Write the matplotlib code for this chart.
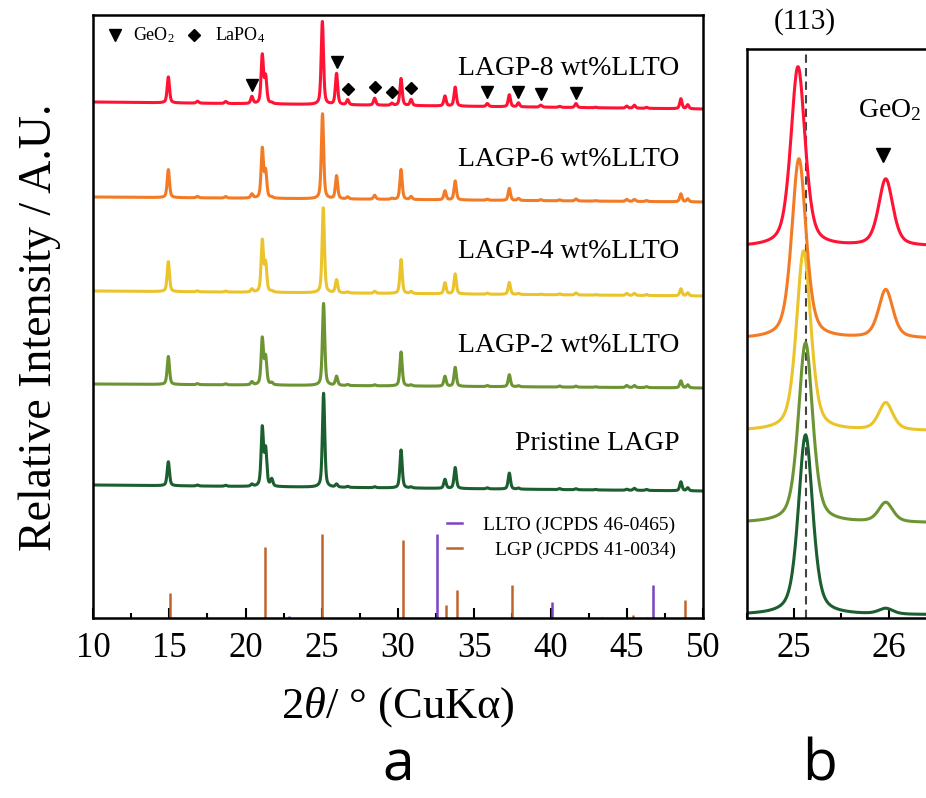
import matplotlib.pyplot as plt
import numpy as np
from matplotlib.ticker import MultipleLocator

# 字体设置 (Times 风格)
plt.rcParams['font.family'] = ['Liberation Serif', 'DejaVu Serif']
plt.rcParams['mathtext.fontset'] = 'custom'
plt.rcParams['mathtext.rm'] = 'Liberation Serif'
plt.rcParams['mathtext.it'] = 'Liberation Serif:italic'

# ---- 数据 ----
# 样品 (由下到上)
samples = ['Pristine LAGP', 'LAGP-2 wt%LLTO', 'LAGP-4 wt%LLTO',
           'LAGP-6 wt%LLTO', 'LAGP-8 wt%LLTO']
colors = ['#1b5e2f', '#6c9433', '#ebc32a', '#f47b25', '#ff1234']

# (113) 主峰位置与强度
main_pos = [25.12, 25.12, 25.10, 25.05, 25.04]
main_h = [94, 82, 85, 85, 83]

# 其他衍射峰位置 (2theta)
peak_pos = [14.94, 16.85, 18.7, 20.42, 21.1, 21.32, 21.72, 25.97, 26.7, 28.47,
            29.6, 30.2, 30.86, 33.08, 33.75, 35.86, 37.3, 37.9, 39.36, 40.6,
            41.67, 42.96, 45.0, 45.5, 46.3, 48.55, 49.0]
h_pristine = [24, 1, 1, 2, 58, 36, 7, 3, 1, 1, 0, 38, 1, 9, 21, 1, 16, 1, 0, 1,
              1, 0.5, 1, 2, 1, 9, 3]
h_lagp2 = [28, 1, 1, 3, 46, 27, 2, 9, 1, 1, 0, 34, 1, 10, 19, 1, 12, 1, 0, 1,
           1, 0.5, 2, 2, 1, 7, 3]
h_lagp4 = [30, 1, 1, 3, 51, 28, 1, 13, 1, 2, 0, 34, 2, 11, 20, 1, 12, 1, 0.5, 1,
           2, 0.5, 2, 2, 1, 7, 3]
h_lagp6 = [28, 1.5, 1.5, 4, 49, 26, 1, 23, 2, 4, 1, 30, 3, 9, 19, 1, 12, 2, 1, 1,
           2, 0.5, 2, 2, 1, 8, 3]
h_lagp8 = [26, 2, 2, 7, 48, 26, 1, 31, 5, 7, 2, 27, 6, 10, 19, 3, 12, 4, 2, 1,
           4, 0.5, 2, 3, 1, 10, 4]
heights = [h_pristine, h_lagp2, h_lagp4, h_lagp6, h_lagp8]

# 背景 (10° 和 50° 处)
bg_left = [133, 234, 327, 421, 516]
bg_right = [127, 230, 322, 416, 509]

# 杂相标记 (LAGP-8 曲线上)
geo2_marks = [20.42, 25.97, 35.86, 37.9, 39.36, 41.67]
lapo4_marks = [26.7, 28.47, 29.6, 30.86]

# 标准卡片
lgp_pos = [15.03, 21.27, 25.03, 30.3, 33.15, 33.9, 37.5, 43.4, 45.4, 46.3, 48.8]
lgp_h = [25, 71, 84, 78, 13, 28, 33, 1, 3, 1, 18]
llto_pos = [22.84, 32.56, 40.13, 46.73]
llto_h = [2, 84, 16, 33]

# 图 b 的偏移
offset_b = [3, 95, 187, 279, 371]
FWHM = 0.18


def pv(x, x0, h, w=FWHM, eta=0.5):
    u = (x - x0) / (w / 2)
    return h * (eta / (1 + u ** 2) + (1 - eta) * np.exp(-np.log(2) * u ** 2))


def pattern(x, i):
    y = pv(x, main_pos[i], main_h[i])
    for p, h in zip(peak_pos, heights[i]):
        y = y + pv(x, p, h)
    return y


fig = plt.figure(figsize=(9.26, 7.98), dpi=100)
axa = fig.add_axes([93 / 926, 180 / 798, 610 / 926, 603 / 798])
axb = fig.add_axes([747 / 926, 180 / 798, 188.8 / 926, 569 / 798])

# ---- 图 a ----
x = np.arange(10, 50.001, 0.01)
for i in range(5):
    bg = np.interp(x, [10, 50], [bg_left[i], bg_right[i]])
    axa.plot(x, bg + pattern(x, i), color=colors[i], lw=2.2)

bg8 = lambda xx: np.interp(xx, [10, 50], [bg_left[4], bg_right[4]])
gx = np.array(geo2_marks)
axa.plot(gx, bg8(gx) + pattern(gx, 4) + 11, 'v', color='k', ms=8)
lx = np.array(lapo4_marks)
axa.plot(lx, bg8(lx) + pattern(lx, 4) + 11, 'D', color='k', ms=6.5)

axa.vlines(lgp_pos, 0, lgp_h, color='#c0642e', lw=1.8)
axa.vlines(llto_pos, 0, llto_h, color='#7b44c2', lw=1.8)

# 样品名
label_y = [168, 266, 360, 452, 543]
for i in range(5):
    axa.text(48.45, label_y[i], samples[i], fontsize=20, ha='right', va='baseline')

# 图例 (上)
axa.plot([11.44], [583], 'v', color='k', ms=8)
axa.text(12.6, 578, r'GeO$_2$', fontsize=13, va='baseline')
axa.plot([16.62], [583], 'D', color='k', ms=6.5)
axa.text(18.0, 578, r'LaPO$_4$', fontsize=13, va='baseline')

# 图例 (卡片)
axa.plot([33.2, 34.2], [95, 95], color='#7b44c2', lw=1.8)
axa.text(48.2, 88, 'LLTO (JCPDS 46-0465)', fontsize=14, ha='right', va='baseline')
axa.plot([33.2, 34.2], [70, 70], color='#c0642e', lw=1.8)
axa.text(48.2, 63, 'LGP (JCPDS 41-0034)', fontsize=14, ha='right', va='baseline')

axa.set_xlim(10, 50)
axa.set_ylim(0, 603)
axa.set_xticks(range(10, 51, 5))
axa.xaxis.set_minor_locator(MultipleLocator(2.5))
axa.set_yticks([])

# ---- 图 b ----
xb = np.arange(24.5, 26.5, 0.005)
for i in range(5):
    axb.plot(xb, offset_b[i] + pattern(xb, i) * 180 / main_h[i], color=colors[i], lw=2.2)
axb.axvline(main_pos[0], color='#444444', lw=1.5, dashes=(4, 2.5), zorder=0)
axb.plot([25.94], [463], 'v', color='k', ms=10)
axb.text(26.01, 508, r'GeO$_2$', fontsize=20, ha='center', va='center')

axb.set_xlim(24.5, 26.5)
axb.set_ylim(0, 569)
axb.set_xticks([25, 26])
axb.xaxis.set_minor_locator(MultipleLocator(0.5))
axb.set_yticks([])
fig.text(805 / 926, 1 - 22 / 798, '(113)', fontsize=21, ha='center', va='center')

for ax in (axa, axb):
    for s in ax.spines.values():
        s.set_linewidth(1.8)
    ax.tick_params(axis='x', which='major', direction='in', length=7, width=1.5,
                   labelsize=25, pad=10)
    ax.tick_params(axis='x', which='minor', direction='in', length=3.5, width=1.5)

fig.text(40 / 926, 1 - 327 / 798, 'Relative Intensity / A.U.', fontsize=33,
         rotation=90, ha='center', va='center')
fig.text(398 / 926, 1 - 707 / 798, '2$\\theta$/ ° (CuKα)', fontsize=32,
         ha='center', va='center')
fig.text(398 / 926, 1 - 766 / 798, 'a', family='Open Sans', fontsize=41,
         ha='center', va='center')
fig.text(820 / 926, 1 - 766 / 798, 'b', family='Open Sans', fontsize=41,
         ha='center', va='center')

fig.savefig('out.png', dpi=100)
plt.close()
